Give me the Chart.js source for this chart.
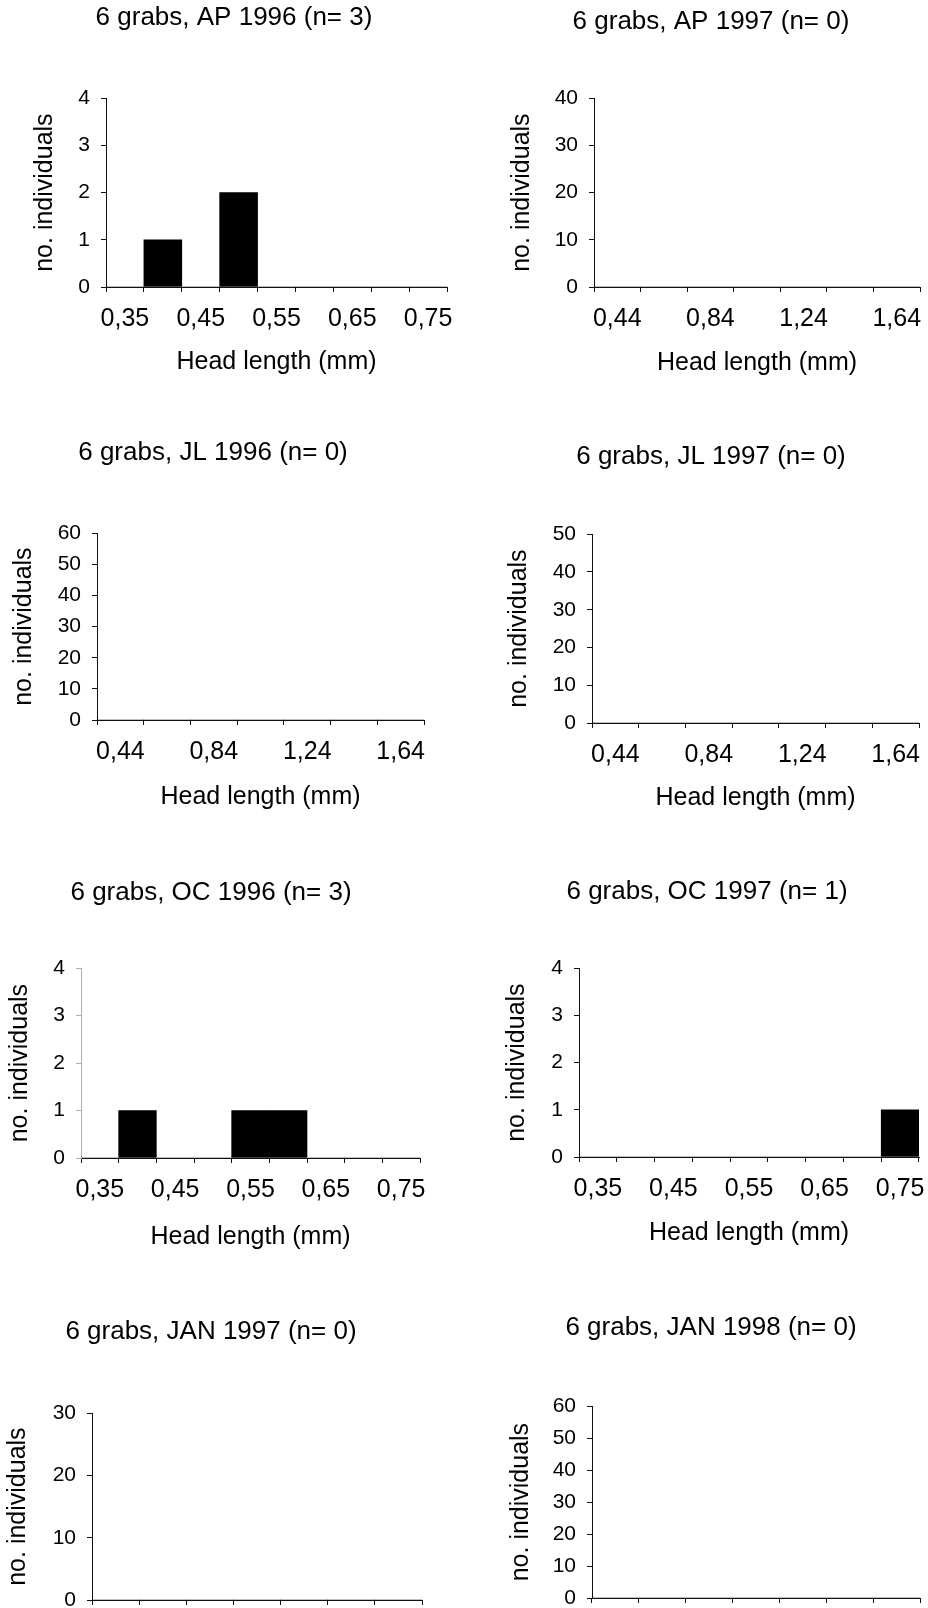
<!DOCTYPE html>
<html>
<head>
<meta charset="utf-8">
<script src="https://cdn.jsdelivr.net/npm/chart.js@4.4.1/dist/chart.umd.min.js"></script>
<style>
  html, body { margin: 0; padding: 0; background: #fff; }
  #page { position: relative; width: 928px; height: 1608px; overflow: hidden; }
  .panel { position: absolute; }
</style>
</head>
<body>
<div id="page"></div>
<script>
// size classes (head length, mm)
const binsFine = ["0,35", "0,40", "0,45", "0,50", "0,55", "0,60", "0,65", "0,70", "0,75"];
const binsWide = ["0,44", "0,64", "0,84", "1,04", "1,24", "1,44", "1,64"];

// counts per size class
const countsAP1996 = [0, 1, 0, 2, 0, 0, 0, 0, 0];
const countsAP1997 = [0, 0, 0, 0, 0, 0, 0];
const countsJL1996 = [0, 0, 0, 0, 0, 0, 0];
const countsJL1997 = [0, 0, 0, 0, 0, 0, 0];
const countsOC1996 = [0, 1, 0, 0, 1, 1, 0, 0, 0];
const countsOC1997 = [0, 0, 0, 0, 0, 0, 0, 0, 1];
const countsJAN1997 = [0, 0, 0, 0, 0, 0, 0];
const countsJAN1998 = [0, 0, 0, 0, 0, 0, 0];

const titles = [
  "6 grabs, AP 1996 (n= 3)", "6 grabs, AP 1997 (n= 0)",
  "6 grabs, JL 1996 (n= 0)", "6 grabs, JL 1997 (n= 0)",
  "6 grabs, OC 1996 (n= 3)", "6 grabs, OC 1997 (n= 1)",
  "6 grabs, JAN 1997 (n= 0)", "6 grabs, JAN 1998 (n= 0)",
];
const yMax = [4, 40, 60, 50, 4, 4, 30, 60];
const yStep = [1, 10, 10, 10, 1, 1, 10, 10];

const panels = [
  { bins: binsFine, counts: countsAP1996 },
  { bins: binsWide, counts: countsAP1997 },
  { bins: binsWide, counts: countsJL1996 },
  { bins: binsWide, counts: countsJL1997 },
  { bins: binsFine, counts: countsOC1996 },
  { bins: binsFine, counts: countsOC1997 },
  { bins: binsWide, counts: countsJAN1997 },
  { bins: binsWide, counts: countsJAN1998 },
];

const frames = [
  { L: 0,   T: 0,    left: 106, right: 447, top: 98,   bottom: 287,  titleX: 234, titleY: 18,   yTitleX: 45,  xTitleY: 362 },
  { L: 464, T: 0,    left: 594, right: 920, top: 98,   bottom: 287,  titleX: 711, titleY: 22,   yTitleX: 522, xTitleY: 363 },
  { L: 0,   T: 420,  left: 97,  right: 424, top: 533,  bottom: 720,  titleX: 213, titleY: 453,  yTitleX: 24,  xTitleY: 797 },
  { L: 464, T: 420,  left: 592, right: 919, top: 534,  bottom: 723,  titleX: 711, titleY: 457,  yTitleX: 519, xTitleY: 798 },
  { L: 0,   T: 850,  left: 81,  right: 420, top: 968,  bottom: 1158, titleX: 211, titleY: 893,  yTitleX: 20,  xTitleY: 1237, faintY: true },
  { L: 464, T: 850,  left: 579, right: 919, top: 968,  bottom: 1157, titleX: 707, titleY: 892,  yTitleX: 517, xTitleY: 1233 },
  { L: 0,   T: 1300, left: 92,  right: 422, top: 1413, bottom: 1600, titleX: 211, titleY: 1332, yTitleX: 18,  xTitleY: 1679 },
  { L: 464, T: 1300, left: 592, right: 920, top: 1406, bottom: 1598, titleX: 711, titleY: 1328, yTitleX: 521, xTitleY: 1677 },
];

const W = 464;
const FONT = "'Liberation Sans', Arial, Helvetica, sans-serif";
const ink = "#111";

const page = document.getElementById("page");

panels.forEach((p, i) => {
  const f = frames[i];
  const H = f.xTitleY + 15 - f.T;
  const padR = f.L + W - f.right;
  const padL = Math.max(0, 2 * f.titleX - f.right - f.L);
  const yWidth = f.left - f.L - padL;
  const yTitlePad = Math.max(0, f.yTitleX - (f.L + padL) - 15);
  const titleTop = f.titleY - f.T - 16;
  const titleBottom = f.top - f.T - 31 - titleTop;
  const xHeight = f.T + H - f.bottom;

  const box = document.createElement("div");
  box.className = "panel";
  box.style.left = f.L + "px";
  box.style.top = f.T + "px";
  box.style.width = W + "px";
  box.style.height = H + "px";
  const canvas = document.createElement("canvas");
  box.appendChild(canvas);
  page.appendChild(box);

  const yColor = f.faintY ? "#b0b0b0" : ink;

  new Chart(canvas, {
    type: "bar",
    data: {
      labels: p.bins,
      datasets: [
        {
          data: p.counts,
          backgroundColor: "#000",
          borderWidth: 0,
          barPercentage: 1,
          categoryPercentage: 1,
        },
      ],
    },
    options: {
      responsive: true,
      maintainAspectRatio: false,
      animation: false,
      layout: { padding: { left: padL, right: padR, top: 0, bottom: 0 } },
      plugins: {
        legend: { display: false },
        tooltip: { enabled: false },
        title: {
          display: true,
          text: titles[i],
          color: "#000",
          font: { family: FONT, size: 26, weight: "normal", lineHeight: 1.2 },
          padding: { top: titleTop, bottom: titleBottom },
        },
      },
      scales: {
        x: {
          grid: {
            drawOnChartArea: false,
            drawTicks: true,
            tickLength: 5,
            color: ink,
            offset: true,
          },
          border: { display: true, color: ink, width: 1 },
          ticks: {
            autoSkip: false,
            maxRotation: 0,
            padding: 12,
            color: "#000",
            font: { family: FONT, size: 25 },
            callback: (v, idx) => (idx % 2 === 0 ? p.bins[idx] : ""),
          },
          title: {
            display: true,
            text: "Head length (mm)",
            color: "#000",
            font: { family: FONT, size: 25 },
            padding: 0,
          },
          afterFit: (s) => {
            s.height = xHeight;
            s.paddingLeft = 0;
            s.paddingRight = 0;
          },
        },
        y: {
          min: 0,
          max: yMax[i],
          grid: {
            drawOnChartArea: false,
            drawTicks: true,
            tickLength: 5,
            color: yColor,
          },
          border: { display: true, color: yColor, width: 1 },
          ticks: {
            stepSize: yStep[i],
            padding: 11,
            color: "#000",
            font: { family: FONT, size: 21 },
          },
          title: {
            display: true,
            text: "no. individuals",
            color: "#000",
            font: { family: FONT, size: 25 },
            padding: { top: yTitlePad, bottom: 0 },
          },
          afterFit: (s) => {
            s.width = yWidth;
            s.paddingTop = 0;
            s.paddingBottom = 0;
          },
        },
      },
    },
  });
});
</script>
</body>
</html>
